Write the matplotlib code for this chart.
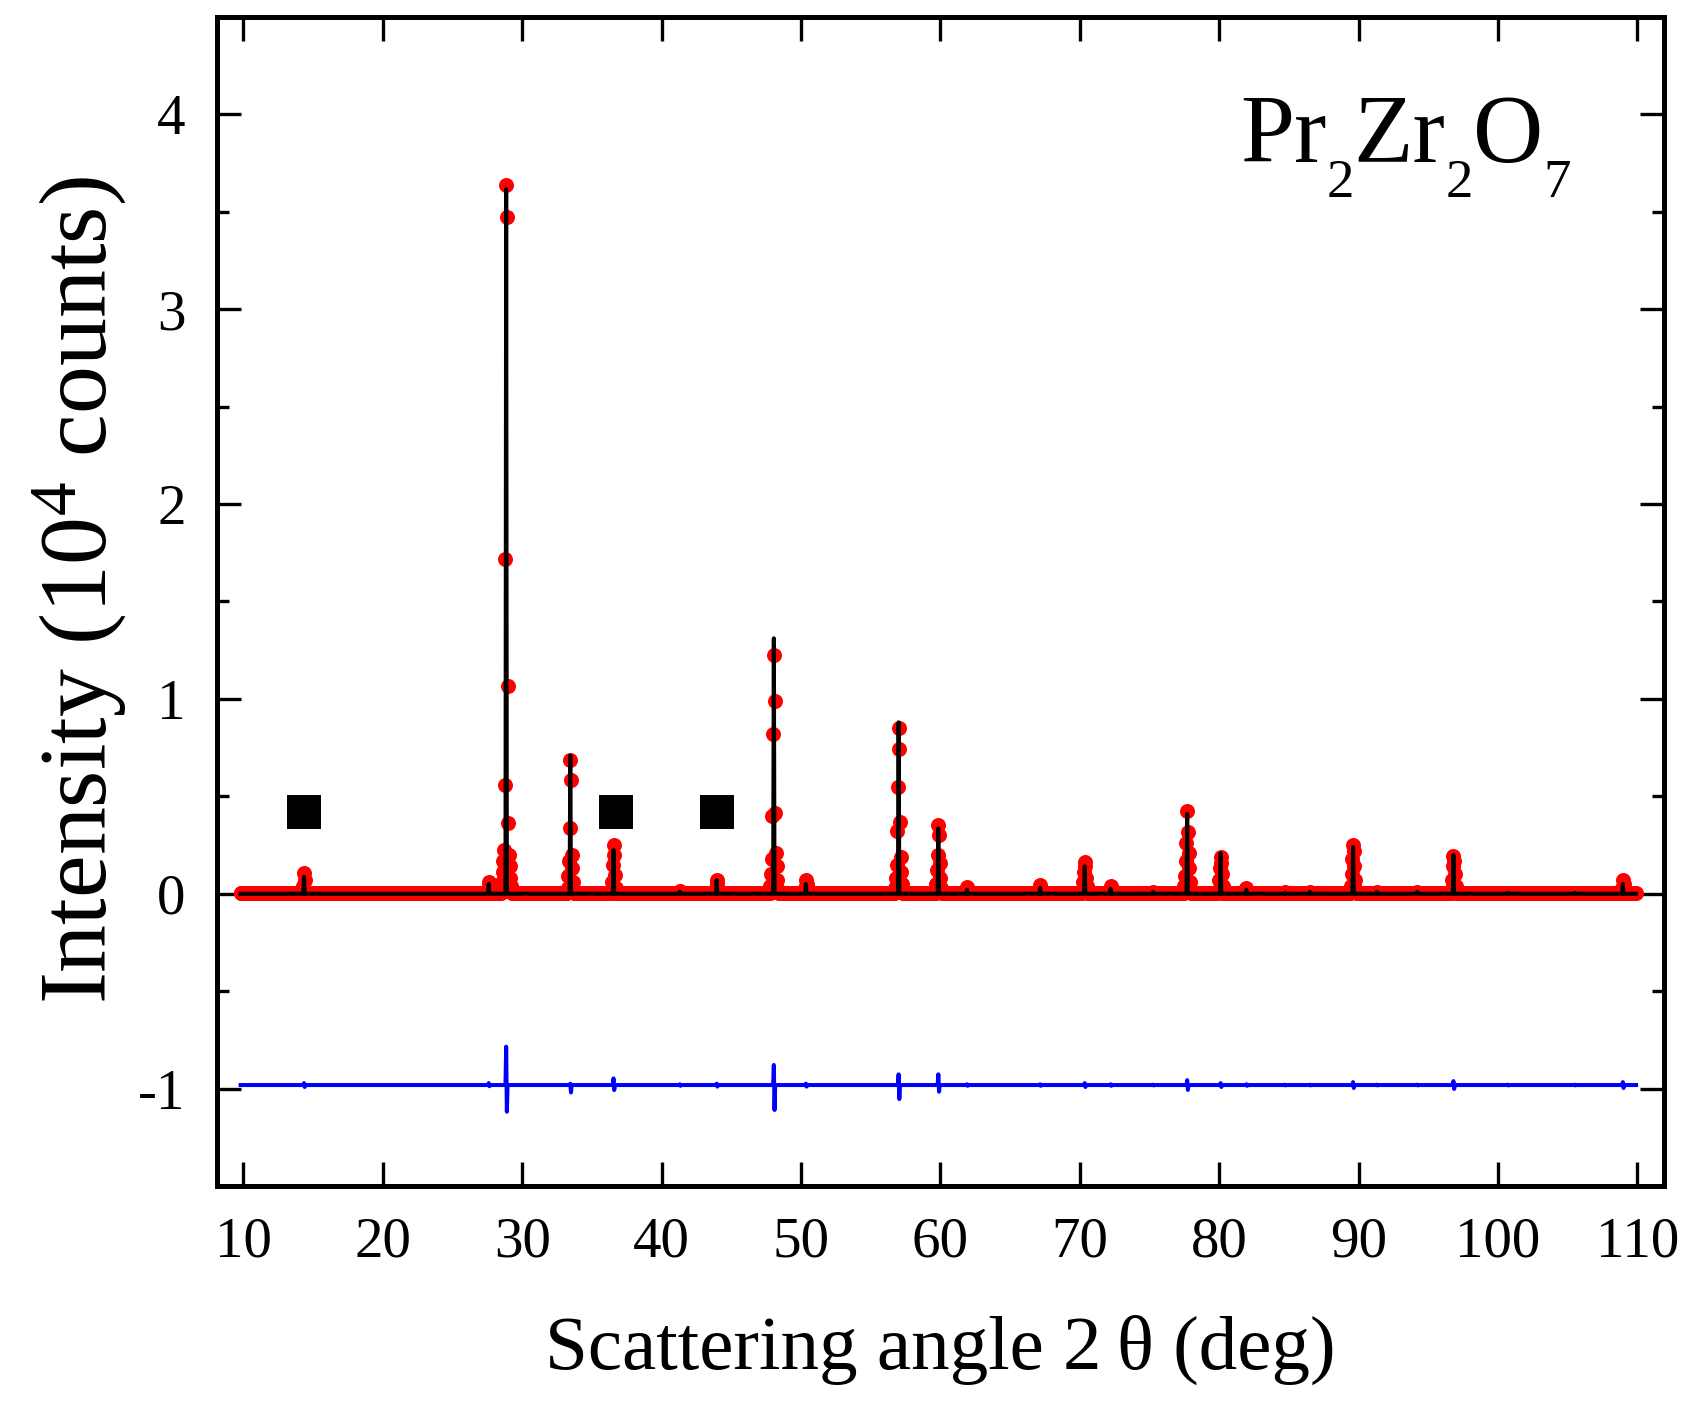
import numpy as np
import matplotlib
matplotlib.use("Agg")
import matplotlib.pyplot as plt

# peak positions (deg)
peak_pos = [14.35, 27.6, 28.87, 33.45, 36.56, 41.28, 43.97, 48.03, 50.36, 57.0,
            59.85, 61.89, 67.15, 70.33, 72.2, 75.27, 77.72, 80.12, 81.93, 84.7,
            86.5, 89.62, 91.3, 94.2, 96.8, 100.7, 105.5, 108.96]
# observed points (10^4 counts) stacked on each peak, largest first
obs_points = [
    [0.108, 0.07, 0.04, 0.02],
    [0.06, 0.04, 0.02],
    [3.64, 3.475, 1.718, 1.066, 0.558, 0.361, 0.224, 0.20, 0.17, 0.14, 0.11, 0.08, 0.06, 0.04, 0.03, 0.02],
    [0.686, 0.584, 0.336, 0.20, 0.17, 0.13, 0.09, 0.06, 0.03, 0.02],
    [0.25, 0.20, 0.15, 0.096, 0.06, 0.03],
    [0.015],
    [0.07, 0.05, 0.03],
    [1.224, 0.991, 0.818, 0.413, 0.40, 0.207, 0.18, 0.14, 0.10, 0.07, 0.04, 0.02],
    [0.07, 0.05, 0.03],
    [0.852, 0.743, 0.549, 0.37, 0.322, 0.19, 0.15, 0.11, 0.08, 0.05, 0.03],
    [0.353, 0.30, 0.20, 0.16, 0.12, 0.08, 0.05, 0.03],
    [0.036, 0.02],
    [0.045, 0.02],
    [0.165, 0.14, 0.11, 0.08, 0.06, 0.04, 0.02],
    [0.04, 0.02],
    [0.01],
    [0.426, 0.318, 0.26, 0.21, 0.17, 0.13, 0.09, 0.06, 0.04, 0.02],
    [0.19, 0.16, 0.13, 0.10, 0.07, 0.04, 0.02],
    [0.03, 0.015],
    [0.008],
    [0.01],
    [0.25, 0.22, 0.18, 0.14, 0.10, 0.07, 0.04, 0.02],
    [0.01],
    [0.01],
    [0.193, 0.17, 0.14, 0.10, 0.07, 0.04, 0.02],
    [0.005],
    [0.005],
    [0.07, 0.05, 0.03],
]
# calculated profile maximum at each peak
calc_top = [0.087, 0.05, 3.616, 0.71, 0.224, 0.01, 0.07, 1.311, 0.05, 0.88,
            0.335, 0.02, 0.03, 0.14, 0.025, 0.01, 0.41, 0.207, 0.02, 0.005,
            0.01, 0.24, 0.01, 0.01, 0.20, 0.005, 0.005, 0.05]
# difference curve excursions (offset curve)
diff_up = [-0.972, -0.972, -0.785, -0.975, -0.948, -0.978, -0.975, -0.879, -0.975, -0.927,
           -0.927, -0.978, -0.978, -0.972, -0.978, -0.980, -0.957, -0.972, -0.978, -0.980,
           -0.980, -0.967, -0.980, -0.980, -0.962, -0.980, -0.980, -0.967]
diff_down = [-0.992, -0.988, -1.119, -1.020, -1.008, -0.986, -0.990, -1.110, -0.990, -1.054,
             -1.016, -0.986, -0.986, -0.992, -0.986, -0.984, -1.007, -0.992, -0.986, -0.984,
             -0.984, -0.997, -0.984, -0.984, -1.002, -0.984, -0.984, -0.997]

scan_start, scan_end, scan_step = 9.8, 109.9, 0.05
background = 0.005
diff_base = -0.982

square_x = [14.35, 36.7, 43.95]
square_y = [0.42, 0.42, 0.42]

x_ticks = [10, 20, 30, 40, 50, 60, 70, 80, 90, 100, 110]
y_ticks = [-1, 0, 1, 2, 3, 4]
y_minor = [-1.5, -0.5, 0.5, 1.5, 2.5, 3.5, 4.5]

# build the scan from the values above
angle = np.arange(scan_start, scan_end + 1e-9, scan_step)
obs = np.full(angle.size, background)
calc = np.full(angle.size, 0.0)
diff = np.full(angle.size, diff_base)
for pos, pts, top, up, down in zip(peak_pos, obs_points, calc_top, diff_up, diff_down):
    i = int(np.argmin(np.abs(angle - pos)))
    calc[i] = top
    diff[i] = up
    diff[i + 1] = down
    for k, v in enumerate(pts):
        off = (k + 1) // 2 * (1 if k % 2 else -1)
        obs[i + off] = v

plt.rcParams['font.family'] = ['Liberation Serif', 'DejaVu Serif']
plt.rcParams['mathtext.fontset'] = 'custom'
plt.rcParams['mathtext.rm'] = 'Liberation Serif'
plt.rcParams['mathtext.it'] = 'Liberation Serif:italic'
plt.rcParams['axes.unicode_minus'] = False

fig = plt.figure(figsize=(17, 14.08), dpi=100)
ax = fig.add_axes([0.1275, 0.1577, 0.8513, 0.8302])

ax.plot(angle, obs, 'o', color='#FF0000', markersize=10.8, markeredgewidth=0, zorder=2)
ax.plot(angle, calc, '-', color='black', linewidth=2.9, zorder=3)
ax.plot(angle, diff, '-', color='#0000FF', linewidth=2.9, zorder=3)
ax.plot(square_x, square_y, 's', color='black', markersize=24.5, markeredgewidth=0, zorder=4)

ax.set_xlim(8.09, 111.9)
ax.set_ylim(-1.5, 4.5)
ax.set_xticks(x_ticks)
ax.set_xticklabels([str(t) for t in x_ticks])
ax.set_yticks(y_ticks)
ax.set_yticklabels([str(t) for t in y_ticks])
ax.set_yticks(y_minor, minor=True)

for s in ax.spines.values():
    s.set_linewidth(3.6)
ax.tick_params(axis='both', which='both', direction='in', top=True, right=True,
               labelsize=41, width=2.4)
ax.tick_params(axis='x', which='major', length=17.5, pad=22)
ax.tick_params(axis='y', which='major', length=17, pad=22.5)
ax.tick_params(axis='y', which='minor', length=8.5)

ax.set_xlabel('Scattering angle 2\u2009θ (deg)', fontsize=55.5)
ax.set_ylabel('Intensity (10$^{4}$ counts)', fontsize=69)
ax.xaxis.set_label_coords(0.5, -0.110)
ax.yaxis.set_label_coords(-0.0606, 0.51)

# formula with deep subscripts, built from chained pieces
prev = ax.text(0.707, 0.876, 'Pr', transform=ax.transAxes,
               ha='left', va='baseline', fontsize=70)
for piece, is_sub in [('2', True), ('Zr', False), ('2', True), ('O', False), ('7', True)]:
    prev = ax.annotate(piece, xy=(1, 0), xycoords=prev,
                       xytext=(0, -10 if is_sub else 33.8), textcoords='offset points',
                       ha='left', va='baseline', fontsize=39.6 if is_sub else 70)

fig.savefig('out.png', dpi=100, facecolor='white')
